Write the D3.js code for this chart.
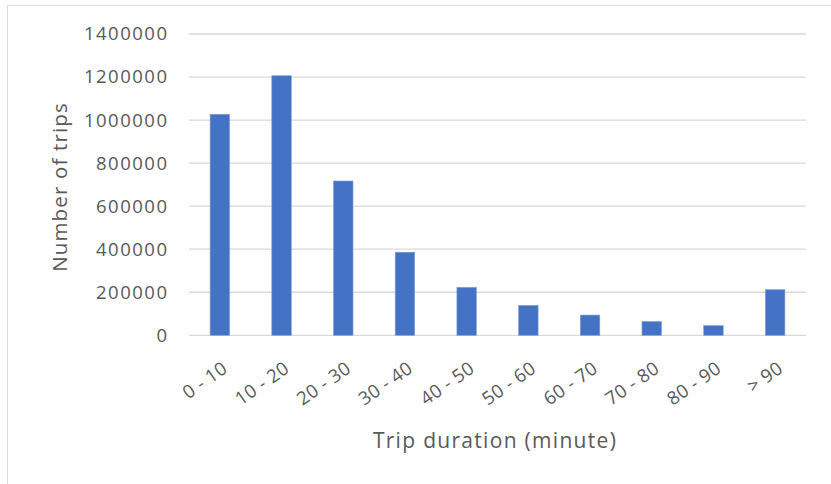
<!DOCTYPE html>
<html><head><meta charset="utf-8">
<script src="https://cdn.jsdelivr.net/npm/d3@7"></script>
<style>body{margin:0;background:#fff}svg{display:block}</style>
</head><body>
<svg id="c" width="831" height="484"></svg>
<script>
const categories = ["0 - 10","10 - 20","20 - 30","30 - 40","40 - 50","50 - 60","60 - 70","70 - 80","80 - 90","> 90"];
const trips = [1027000,1206000,717000,386000,223000,139000,94000,64000,45000,212000];
const yTicks = [0,200000,400000,600000,800000,1000000,1200000,1400000];
const xTitle = "Trip duration (minute)";
const yTitle = "Number of trips";

const svg = d3.select("#c");
const font = "'Open Sans', 'Noto Sans', sans-serif";
const grey = "#595959";
const L = 189, R = 806, T = 34, B = 335.3;

svg.append("rect").attr("x",7.5).attr("y",5.5).attr("width",840).attr("height",490)
  .attr("fill","none").attr("stroke","#d9d9d9");

const x = d3.scaleBand().domain(categories).range([L,R]).paddingInner(0.684).paddingOuter(0.342);
const y = d3.scaleLinear().domain([0,1400000]).range([B,T]);

svg.append("g").selectAll("line").data(yTicks).join("line")
  .attr("x1",L).attr("x2",R).attr("y1",d=>y(d)).attr("y2",d=>y(d))
  .attr("stroke","#d9d9d9").attr("stroke-width",1.3);

svg.append("g").selectAll("rect").data(trips).join("rect")
  .attr("x",(d,i)=>x(categories[i])).attr("width",x.bandwidth())
  .attr("y",d=>y(d)).attr("height",d=>B-y(d))
  .attr("fill","#4472c4").attr("stroke","#7f9fd8").attr("stroke-width",0.6);

const yAxis = svg.append("g").attr("transform",`translate(${L},0)`)
  .call(d3.axisLeft(y).tickValues(yTicks).tickFormat(d3.format("d")).tickSize(0).tickPadding(20.5));
yAxis.select(".domain").remove();
yAxis.selectAll("text").attr("font-family",font).attr("font-size",18.5)
  .attr("letter-spacing",1.5).attr("fill",grey);

const xAxis = svg.append("g").attr("transform",`translate(0,${B})`)
  .call(d3.axisBottom(x).tickSize(0));
xAxis.select(".domain").remove();
xAxis.selectAll("text")
  .attr("font-family",font).attr("font-size",18.5).attr("letter-spacing",0.4).attr("fill",grey)
  .attr("text-anchor","end")
  .attr("y",0).attr("dy",0)
  .attr("transform","translate(9,36) rotate(-35)");

svg.append("text").attr("x",495).attr("y",448)
  .attr("text-anchor","middle").attr("font-family",font).attr("font-size",21)
  .attr("letter-spacing",1.3).attr("fill",grey)
  .text(xTitle);

svg.append("text").attr("transform",`translate(67,187) rotate(-90)`)
  .attr("text-anchor","middle").attr("font-family",font).attr("font-size",20.5)
  .attr("letter-spacing",1.15).attr("fill",grey)
  .text(yTitle);
</script>
</body></html>
